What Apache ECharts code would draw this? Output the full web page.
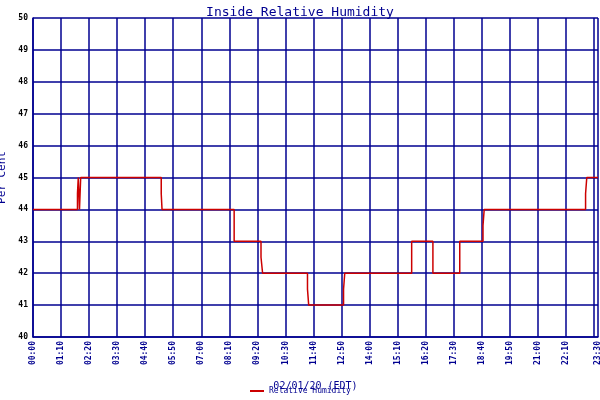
<!DOCTYPE html>
<html><head><meta charset="utf-8">
<script src="https://cdn.jsdelivr.net/npm/echarts@6/dist/echarts.min.js"></script>
<style>html,body{margin:0;padding:0;background:#fff}#c{width:600px;height:400px}</style>
</head><body><div id="c"></div>
<script>
const times  = [0,111,113,116,119,320,322,502,569,573,685,688,775,778,945,998,1065,1123,1126,1379,1382,1410];
const values = [44,44.5,45,44,45,44.5,44,43,42.5,42,41.5,41,41.5,42,43,42,43,43.5,44,44.5,45,45];
const yTicks = [40,41,42,43,44,45,46,47,48,49,50];
const seriesName = 'Relative Humidity';
const navy = '#000090';
const font = 'DejaVu Sans Mono';
function hm(v){const h=Math.floor(v/60),m=Math.round(v%60);return String(h).padStart(2,'0')+':'+String(m).padStart(2,'0');}
const chart = echarts.init(document.getElementById('c'));
chart.setOption({
  animation:false,
  title:{text:'Inside Relative Humidity',left:'center',top:1,textStyle:{color:navy,fontFamily:font,fontSize:13,fontWeight:'normal'}},
  grid:{left:33,right:2,top:18,bottom:63,containLabel:false,outerBoundsMode:'none'},
  legend:{bottom:0,left:245,itemWidth:14,itemHeight:2,icon:'rect',textStyle:{fontFamily:font,fontSize:8,color:navy},data:[seriesName]},
  xAxis:{type:'value',min:0,max:1410,interval:70,
    name:'02/01/20 (EDT)',nameLocation:'middle',nameGap:44,nameTextStyle:{color:navy,fontFamily:font,fontSize:10},
    axisLine:{lineStyle:{color:navy,width:1.5}},axisTick:{show:false},
    splitLine:{show:true,lineStyle:{color:navy,width:1.5}},
    axisLabel:{rotate:90,hideOverlap:false,color:navy,fontFamily:font,fontSize:8,fontWeight:'bold',margin:4,showMaxLabel:true,formatter:hm}},
  yAxis:{type:'value',min:yTicks[0],max:yTicks[yTicks.length-1],interval:1,
    name:'Per Cent',nameLocation:'middle',nameGap:20,nameTextStyle:{color:navy,fontFamily:font,fontSize:11},
    axisLine:{show:true,lineStyle:{color:navy,width:1.5}},axisTick:{show:false},
    splitLine:{lineStyle:{color:navy,width:1.5}},
    axisLabel:{color:'#000',fontFamily:font,fontSize:8,fontWeight:'bold',margin:5}},
  series:[{name:seriesName,type:'line',step:'end',showSymbol:false,z:5,
    lineStyle:{color:'#cc0000',width:1.5},itemStyle:{color:'#cc0000'},
    data:times.map((t,i)=>[t,values[i]])}]
});
</script></body></html>
